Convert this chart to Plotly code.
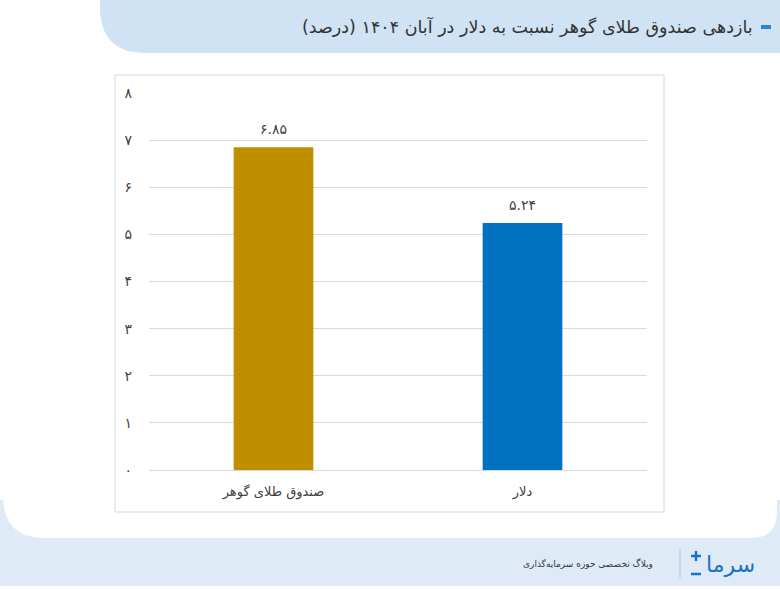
import plotly.graph_objects as go

# ---- data ----
categories = ["صندوق طلای گوهر", "دلار"]
values = [6.85, 5.24]
value_labels = ["۶.۸۵", "۵.۲۴"]
bar_colors = ["#BF8F00", "#0070C0"]
y_tickvals = [0, 1, 2, 3, 4, 5, 6, 7, 8]
y_ticktext = ["۰", "۱", "۲", "۳", "۴", "۵", "۶", "۷", "۸"]
title_text = "بازدهی صندوق طلای گوهر نسبت به دلار در آبان ۱۴۰۴ (درصد)"
footer_text = "وبلاگ تخصصی حوزه سرمایه‌گذاری"
logo_text = "سرما"

W, H = 780, 589


def px(x):
    return x / W


def py(y):
    return 1 - y / H


FONT = "DejaVu Sans, Noto Sans, sans-serif"

fig = go.Figure()
fig.add_trace(go.Bar(
    x=categories, y=values,
    marker=dict(color=bar_colors, line=dict(width=0)),
    width=0.32,
    cliponaxis=False,
))

shapes = []
# footer light-blue band
shapes.append(dict(type="rect", xref="paper", yref="paper",
                   x0=0, x1=1, y0=py(586), y1=py(500),
                   fillcolor="#deebf7", line=dict(width=0), layer="below"))
# white card with rounded bottom corners
r1, r2 = 42, 26
x0c, x1c, y0c, y1c = 3, 777, 40, 538
path = (f"M {px(x0c)},{py(y0c)} L {px(x1c)},{py(y0c)} "
        f"L {px(x1c)},{py(y1c - r2)} "
        f"Q {px(x1c)},{py(y1c)} {px(x1c - r2)},{py(y1c)} "
        f"L {px(x0c + r1)},{py(y1c)} "
        f"Q {px(x0c)},{py(y1c)} {px(x0c)},{py(y1c - r1)} Z")
shapes.append(dict(type="path", xref="paper", yref="paper", path=path,
                   fillcolor="white", line=dict(width=0), layer="below"))
# header band with rounded bottom-left corner
rh = 46
hpath = (f"M {px(100)},{py(0)} L {px(780)},{py(0)} L {px(780)},{py(53)} "
         f"L {px(100 + rh)},{py(53)} "
         f"Q {px(100)},{py(53)} {px(100)},{py(53 - rh)} Z")
shapes.append(dict(type="path", xref="paper", yref="paper", path=hpath,
                   fillcolor="#cfe3f4", line=dict(width=0), layer="below"))
# header blue dash
shapes.append(dict(type="rect", xref="paper", yref="paper",
                   x0=px(761), x1=px(771), y0=py(29), y1=py(25),
                   fillcolor="#2e80d0", line=dict(width=0), layer="below"))
# chart frame
shapes.append(dict(type="rect", xref="paper", yref="paper",
                   x0=px(115), x1=px(664), y0=py(512), y1=py(75),
                   fillcolor="rgba(0,0,0,0)", line=dict(color="#d9d9d9", width=1),
                   layer="below"))
# footer separator
shapes.append(dict(type="line", xref="paper", yref="paper",
                   x0=px(680), x1=px(680), y0=py(578), y1=py(548),
                   line=dict(color="#a9c9e8", width=1)))
# logo plus sign and dash
shapes.append(dict(type="line", xref="paper", yref="paper",
                   x0=px(691), x1=px(701), y0=py(556), y1=py(556),
                   line=dict(color="#1a73c8", width=2.5)))
shapes.append(dict(type="line", xref="paper", yref="paper",
                   x0=px(696), x1=px(696), y0=py(551), y1=py(561),
                   line=dict(color="#1a73c8", width=2.5)))
shapes.append(dict(type="line", xref="paper", yref="paper",
                   x0=px(691), x1=px(701), y0=py(574), y1=py(574),
                   line=dict(color="#1a73c8", width=2.5)))

annotations = [
    dict(text=title_text, xref="paper", yref="paper", x=px(755), y=py(27),
         xanchor="right", yanchor="middle", showarrow=False,
         font=dict(size=17.5, color="#333333", family=FONT)),
    dict(text=footer_text, xref="paper", yref="paper", x=px(655), y=py(563),
         xanchor="right", yanchor="middle", showarrow=False,
         font=dict(size=9, color="#333333", family=FONT)),
    dict(text=logo_text, xref="paper", yref="paper", x=px(757), y=py(564),
         xanchor="right", yanchor="middle", showarrow=False,
         font=dict(size=22, color="#1a73c8", family=FONT)),
]
# value labels above bars
for c, v, t in zip(categories, values, value_labels):
    annotations.append(dict(text=t, x=c, y=v, xref="x", yref="y",
                            yanchor="bottom", yshift=8, showarrow=False,
                            font=dict(size=14, color="#404040", family=FONT)))

fig.update_layout(
    width=W, height=H,
    margin=dict(l=0, r=0, t=0, b=0, autoexpand=False),
    paper_bgcolor="white", plot_bgcolor="rgba(0,0,0,0)",
    showlegend=False,
    shapes=shapes, annotations=annotations,
    xaxis=dict(domain=[px(149), px(647)], showgrid=False, showline=False,
               ticks="", ticklabelstandoff=12, automargin=False,
               tickfont=dict(size=13, color="#404040", family=FONT),
               fixedrange=True),
    yaxis=dict(domain=[py(470), py(93)], range=[0, 8],
               tickvals=y_tickvals, ticktext=y_ticktext,
               showgrid=True, gridcolor="#d9d9d9", gridwidth=1,
               zeroline=True, zerolinecolor="#d9d9d9", zerolinewidth=1,
               showline=False, ticks="", ticklabelstandoff=16, automargin=False,
               tickfont=dict(size=14, color="#404040", family=FONT),
               fixedrange=True),
)

fig.write_html("out.html")
